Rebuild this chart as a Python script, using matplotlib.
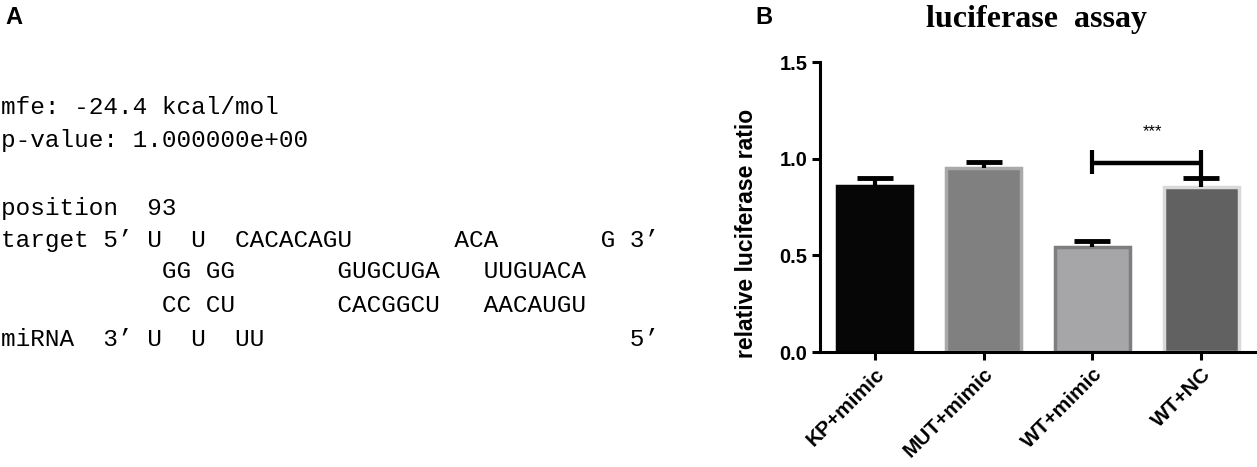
import matplotlib
matplotlib.use("Agg")
import matplotlib.pyplot as plt

# panel A: RNAhybrid style output
hybrid_lines = [
    "mfe: -24.4 kcal/mol",
    "p-value: 1.000000e+00",
    "position  93",
    "target 5’ U  U  CACACAGU       ACA       G 3’",
    "           GG GG       GUGCUGA   UUGUACA",
    "           CC CU       CACGGCU   AACAUGU",
    "miRNA  3’ U  U  UU                         5’",
]
hybrid_y_px = [107, 140, 208, 240, 272, 305, 340]

# panel B: luciferase assay
groups = ["KP+mimic", "MUT+mimic", "WT+mimic", "WT+NC"]
ratio = [0.86, 0.95, 0.545, 0.855]
ratio_err = [0.04, 0.035, 0.03, 0.045]
bar_colors = ["#060606", "#808080", "#a6a6a9", "#616161"]
edge_colors = ["#060606", "#a9a9a9", "#7e7e7e", "#d9d9d9"]
sig_pair = (2, 3)
sig_label = "***"

W, H = 1257, 467
fig = plt.figure(figsize=(W / 100, H / 100), dpi=100)

fig.text(5 / W, 1 - 17 / H, "A", fontsize=17, fontweight="bold",
         family="Liberation Sans", va="center", ha="left")
for line, ypx in zip(hybrid_lines, hybrid_y_px):
    fig.text(1 / W, 1 - ypx / H, line, fontsize=17.6, family="Liberation Mono",
             va="center", ha="left")

fig.text(755 / W, 1 - 17 / H, "B", fontsize=17, fontweight="bold",
         family="Liberation Sans", va="center", ha="left")
fig.text(1037 / W, 1 - 19 / H, "luciferase  assay", fontsize=23,
         fontweight="bold", family="Liberation Serif", va="center",
         ha="center")

ax = fig.add_axes([820 / W, (H - 352) / H, (W - 820) / W, 290 / H])
x = range(len(groups))
ax.bar(x, ratio, width=0.69, color=bar_colors, edgecolor=edge_colors,
       linewidth=2.5, zorder=2)
eb = ax.errorbar(x, ratio, yerr=[[0] * len(ratio), ratio_err], fmt="none",
                 ecolor="black", elinewidth=3, capsize=13, capthick=3.5,
                 zorder=3)
# only the upper caps, like GraphPad
eb[1][0].set_visible(False)

# significance bracket
x0, x1 = sig_pair
ax.plot([x0, x1], [0.98, 0.98], color="black", lw=3.2, solid_capstyle="butt")
ax.plot([x0, x0], [0.92, 1.045], color="black", lw=3, solid_capstyle="butt")
ax.plot([x1, x1], [0.90, 1.045], color="black", lw=3, solid_capstyle="butt")
ax.text((x0 + x1) / 2 + 0.05, 1.14, sig_label, ha="center", va="center",
        fontsize=12, family="Liberation Sans")

ax.set_xlim(-0.506, 3.515)
ax.set_ylim(0, 1.5)
ax.set_yticks([0.0, 0.5, 1.0, 1.5])
ax.set_yticklabels(["0.0", "0.5", "1.0", "1.5"], fontsize=14.5,
                   fontweight="bold", family="Liberation Sans")
ax.set_xticks(list(x))
ax.set_xticklabels(groups, rotation=45, ha="right", rotation_mode="anchor",
                   fontsize=15, fontweight="bold", family="Liberation Sans")
ax.tick_params(axis="both", direction="out", length=6, width=2.2, pad=3)
for side in ["top", "right"]:
    ax.spines[side].set_visible(False)
for side in ["left", "bottom"]:
    ax.spines[side].set_linewidth(2.2)

ax.set_ylabel("relative luciferase ratio", fontsize=16.5, fontweight="bold",
              family="Liberation Sans")
ax.yaxis.set_label_coords(-62 / 437, (352 - 233) / 290)

fig.savefig("out.png", dpi=100)
